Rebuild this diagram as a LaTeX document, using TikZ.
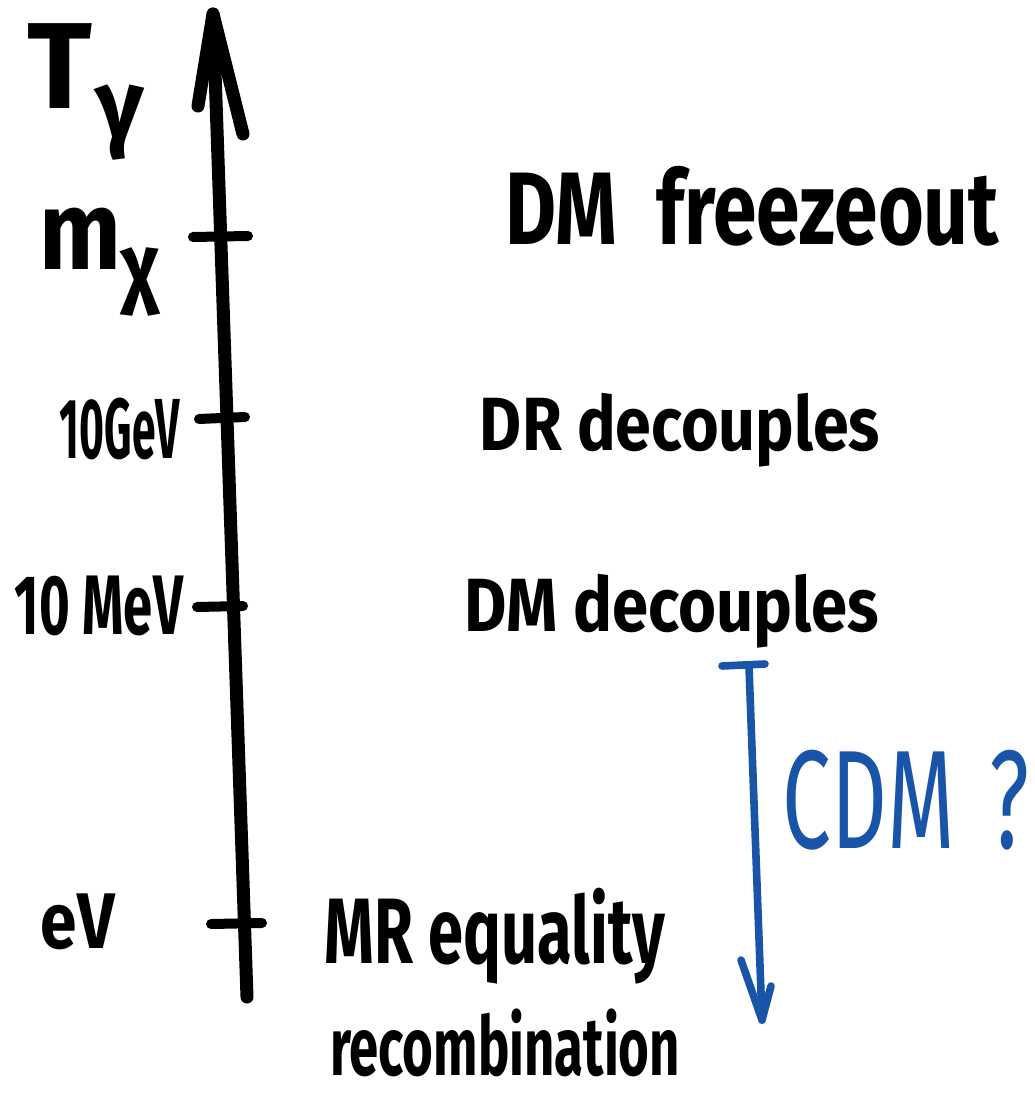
\documentclass[tikz,border=0pt]{standalone}
\usepackage{fontspec}
\setmainfont{Fira Sans}
\definecolor{penblue}{RGB}{24,84,168}
\newcommand{\fitbox}[3]{\resizebox*{#1pt}{#2pt}{#3}}
\newcommand{\lowsub}[1]{\raisebox{-0.45ex}{\footnotesize #1}}
\tikzset{
  axisline/.style={line width=6.5pt, line cap=round, line join=round, black},
  tickline/.style={line width=5pt, line cap=round, black},
  blueline/.style={line width=3.8pt, line cap=round, line join=round, penblue},
  lbl/.style={inner sep=0pt, outer sep=0pt, anchor=center, font=\bfseries},
}
\begin{document}
\begin{tikzpicture}[x=0.5pt, y=-0.5pt]
\useasboundingbox (0,0) rectangle (1034,1101);
% axis
\coordinate (axisbot) at (247,997);
\coordinate (axistop) at (213,14);
\coordinate (wingL) at (198,106);
\coordinate (wingR) at (243,134);
\draw[axisline] (axisbot) -- (axistop);
\draw[axisline] (wingL) -- (axistop) -- (wingR);
% ticks
\coordinate (t1a) at (193,237); \coordinate (t1b) at (248,236);
\coordinate (t2a) at (199,419); \coordinate (t2b) at (245,417);
\coordinate (t3a) at (197,607); \coordinate (t3b) at (243,606);
\coordinate (t4a) at (211,924); \coordinate (t4b) at (262,923);
\draw[tickline] (t1a) -- (t1b);
\draw[tickline] (t2a) -- (t2b);
\draw[tickline] (t3a) -- (t3b);
\draw[tickline] (t4a) -- (t4b);
% left labels
\node[lbl] (Tg) at (86,92) {\fitbox{58}{68}{T\kern0.02em\lowsub{γ}}};
\node[lbl] (mchi) at (100,262) {\fitbox{60}{54}{m\lowsub{χ}}};
\node[lbl] (l10GeV) at (120,429) {\fitbox{60}{31}{10GeV}};
\node[lbl] (l10MeV) at (99,606) {\fitbox{84}{30}{10 MeV}};
\node[lbl] (leV) at (78,922) {\fitbox{37}{28}{eV}};
% right labels
\node[lbl] (freeze) at (752,206) {\fitbox{247}{40}{DM\hspace{0.5em}freezeout}};
\node[lbl] (DR) at (680,430) {\fitbox{200}{37}{DR decouples}};
\node[lbl] (DMdec) at (672,611) {\fitbox{207}{37}{DM decouples}};
\node[lbl] (MR) at (495,936) {\fitbox{170}{48}{MR equality}};
\node[lbl] (recomb) at (505,1043) {\fitbox{175}{34}{recombination}};
% blue arrow
\coordinate (bar1) at (722,666); \coordinate (bar2) at (765,664);
\coordinate (cdmtop) at (749,667);
\coordinate (cdmbot) at (762,1020);
\coordinate (vL) at (741,960); \coordinate (vR) at (771,986);
\draw[blueline] (bar1) -- (bar2);
\draw[blueline] (cdmtop) -- (cdmbot);
\draw[blueline] (vL) -- (cdmbot) -- (vR);
\node[lbl, text=penblue, font=\mdseries] (CDM) at (906,800) {\fitbox{123}{50}{CDM\hspace{0.4em}?}};
\end{tikzpicture}
\end{document}
